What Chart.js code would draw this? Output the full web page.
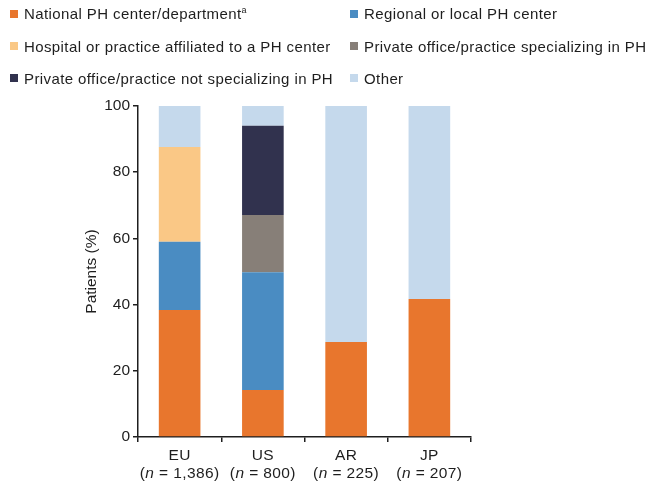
<!DOCTYPE html>
<html><head><meta charset="utf-8">
<script src="https://cdn.jsdelivr.net/npm/chart.js@4"></script>
<style>
html,body{margin:0;padding:0;background:#fff;}
#wrap{position:relative;width:648px;height:487px;}
#c{position:absolute;left:0;top:0;}
#legend{position:absolute;left:0;top:0;width:648px;height:95px;font-family:"Liberation Sans",Arial,sans-serif;font-size:15px;letter-spacing:0.4px;color:#1e1e1e;}
.item{position:absolute;height:20px;display:flex;align-items:center;white-space:nowrap;}
.sw{width:8px;height:8px;margin-right:6px;flex:none;}
sup{font-size:9px;letter-spacing:0;vertical-align:6px;line-height:0;}
</style></head><body>
<div id="wrap"><canvas id="c" width="648" height="487"></canvas><div id="legend"></div></div>
<script>
const categories = ['EU', 'US', 'AR', 'JP'];
const sampleSizes = ['1,386', '800', '225', '207'];
const seriesNames = [
  'National PH center/department',
  'Regional or local PH center',
  'Hospital or practice affiliated to a PH center',
  'Private office/practice specializing in PH',
  'Private office/practice not specializing in PH',
  'Other'
];
const seriesNotes = ['a', '', '', '', '', ''];
const seriesColors = ['#E8762D', '#4A8CC2', '#FAC886', '#877F78', '#31324E', '#C5D9EC'];
const national       = [38.4, 14.2, 28.7, 41.7];
const regional       = [20.6, 35.6, 0, 0];
const hospital       = [28.6, 0, 0, 0];
const privateSpec    = [0, 17.3, 0, 0];
const privateNonSpec = [0, 26.9, 0, 0];
const other          = [12.8, 6.0, 71.3, 58.3];
const yTicks = [0, 20, 40, 60, 80, 100];

const seriesValues = [national, regional, hospital, privateSpec, privateNonSpec, other];
const FAM = '"Liberation Sans", Arial, sans-serif';
const INK = '#1e1e1e';

// HTML legend (two columns)
const legendLeft = [10, 350];
const legendRowCenter = [13.5, 46, 78];
const legendEl = document.getElementById('legend');
seriesNames.forEach((name, i) => {
  const row = Math.floor(i / 2), col = i % 2;
  const d = document.createElement('div');
  d.className = 'item';
  d.style.left = legendLeft[col] + 'px';
  d.style.top = (legendRowCenter[row] - 10) + 'px';
  const sw = document.createElement('span');
  sw.className = 'sw';
  sw.style.background = seriesColors[i];
  d.appendChild(sw);
  const t = document.createElement('span');
  t.textContent = name;
  if (seriesNotes[i]) {
    const s = document.createElement('sup');
    s.textContent = seriesNotes[i];
    t.appendChild(s);
  }
  d.appendChild(t);
  legendEl.appendChild(d);
});

const xLabelPlugin = {
  id: 'xLabels',
  afterDraw(chart) {
    const xs = chart.scales.x;
    const ctx = chart.ctx;
    ctx.save();
    ctx.fillStyle = INK;
    ctx.textBaseline = 'middle';
    try { ctx.letterSpacing = '0.4px'; } catch (e) {}
    const size = 15.5;
    categories.forEach((cat, i) => {
      const x = xs.getPixelForTick(i);
      ctx.font = size + 'px ' + FAM;
      ctx.textAlign = 'center';
      ctx.fillText(cat, x, xs.top + 18.5);
      const parts = [
        { t: '(', it: false },
        { t: 'n', it: true },
        { t: ' = ' + sampleSizes[i] + ')', it: false }
      ];
      let w = 0;
      parts.forEach(p => {
        ctx.font = (p.it ? 'italic ' : '') + size + 'px ' + FAM;
        p.w = ctx.measureText(p.t).width;
        w += p.w;
      });
      let cx = x - w / 2;
      ctx.textAlign = 'left';
      parts.forEach(p => {
        ctx.font = (p.it ? 'italic ' : '') + size + 'px ' + FAM;
        ctx.fillText(p.t, cx, xs.top + 36.5);
        cx += p.w;
      });
    });
    ctx.restore();
  }
};

new Chart(document.getElementById('c'), {
  type: 'bar',
  data: {
    labels: categories,
    datasets: seriesNames.map((name, i) => ({
      label: name,
      data: seriesValues[i],
      backgroundColor: seriesColors[i],
      borderWidth: 0,
      barPercentage: 0.5,
      categoryPercentage: 1
    }))
  },
  options: {
    responsive: false,
    animation: false,
    devicePixelRatio: 1,
    layout: { padding: { top: 106, right: 177, bottom: 0, left: 80 } },
    plugins: { legend: { display: false }, tooltip: { enabled: false } },
    scales: {
      x: {
        stacked: true,
        offset: true,
        grid: { display: true, offset: true, drawOnChartArea: false, drawTicks: true, tickLength: 5, color: INK, lineWidth: 1.5 },
        border: { display: true, color: INK, width: 1.5 },
        ticks: { color: 'rgba(0,0,0,0)', font: { size: 15, family: FAM } },
        afterFit(s) { s.height = 50; }
      },
      y: {
        stacked: true,
        min: 0,
        max: 100,
        afterBuildTicks(s) { s.ticks = yTicks.map(v => ({ value: v })); },
        ticks: { color: INK, font: { size: 15.5, family: FAM }, padding: 3 },
        grid: { display: true, drawOnChartArea: false, drawTicks: true, tickLength: 5, color: INK, lineWidth: 1.5 },
        border: { display: true, color: INK, width: 1.5 },
        title: { display: true, text: 'Patients (%)', color: INK, font: { size: 15.5, family: FAM }, padding: { top: 2, bottom: 0 } },
        afterFit(s) { s.width = 58; }
      }
    }
  },
  plugins: [xLabelPlugin]
});
</script>
</body></html>
